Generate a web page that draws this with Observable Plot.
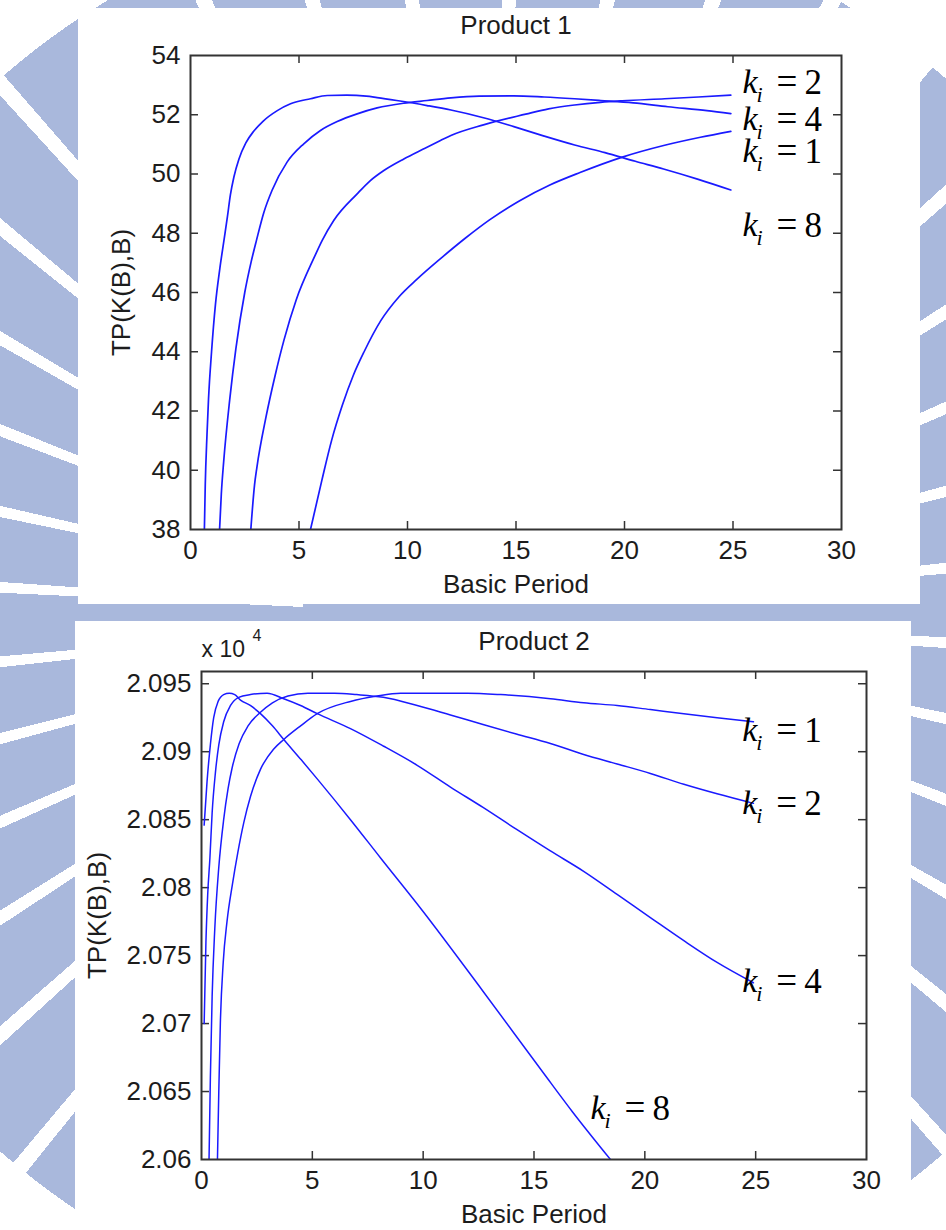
<!DOCTYPE html>
<html>
<head>
<meta charset="utf-8">
<script src="https://cdn.jsdelivr.net/npm/d3@7"></script>
<script src="https://cdn.jsdelivr.net/npm/@observablehq/plot@0.6"></script>
<style>
  html, body { margin: 0; padding: 0; }
  body { width: 946px; height: 1230px; position: relative; overflow: hidden; background: #fff; }
  /* pale emblem behind the figures: a ring of wedges around the page centre */
  .emblem {
    position: absolute; left: 0; top: 0; width: 946px; height: 1230px;
    background:
      radial-gradient(circle at 473px 615px, #a9b8dc 0 170px, transparent 170px 715px, #fff 715px),
      repeating-conic-gradient(from 4deg at 473px 615px, #a9b8dc 0deg 7.7deg, #fff 7.7deg 9deg);
  }
  .sheet { position: absolute; background: #fff; }
  .chart { position: absolute; left: 0; }
  .chart svg { display: block; }
</style>
</head>
<body>
<div class="emblem"></div>
<div class="sheet" style="left:78px;top:8px;width:842px;height:596px"></div>
<div class="sheet" style="left:75px;top:621px;width:836px;height:609px"></div>
<div id="c1" class="chart" style="top:0"></div>
<div id="c2" class="chart" style="top:610px"></div>
<script>
// ---- axes ----
const basicPeriodTicks = [0, 5, 10, 15, 20, 25, 30];
const innerPeriodTicks = [5, 10, 15, 20, 25];
const tp1Ticks = [38, 40, 42, 44, 46, 48, 50, 52, 54];
const tp2Ticks = [20600, 20650, 20700, 20750, 20800, 20850, 20900, 20950];

// ---- Product 1: [basic period, TP] for each k_i ----
const p1K1 = [[5.53,38.0],[6.05,39.65],[6.5,41.0],[7.0,42.2],[7.5,43.2],[8.0,44.0],[8.77,45.05],[9.6,45.85],[10.44,46.45],[11.55,47.16],[12.66,47.83],[13.78,48.45],[15.17,49.1],[16.56,49.63],[17.95,50.05],[19.9,50.57],[21.85,50.97],[23.5,51.24],[24.9,51.44]];
const p1K2 = [[2.78,38.0],[2.95,39.5],[3.06,40.1],[3.48,41.8],[3.9,43.2],[4.31,44.4],[4.87,45.75],[5.71,47.2],[6.07,47.76],[6.6,48.43],[7.68,49.33],[8.29,49.78],[8.91,50.12],[9.83,50.51],[10.75,50.85],[11.52,51.13],[12.0,51.3],[13.5,51.66],[15.45,52.02],[16.5,52.2],[17.7,52.33],[18.9,52.42],[19.9,52.47],[21.85,52.54],[23.4,52.6],[24.9,52.66]];
const p1K4 = [[1.34,38.0],[1.42,39.2],[1.53,40.3],[1.81,42.4],[2.09,44.1],[2.5,46.0],[2.8,47.05],[3.04,47.76],[3.38,48.7],[3.76,49.45],[4.45,50.4],[5.22,51.02],[5.99,51.47],[6.76,51.77],[7.68,52.03],[8.6,52.23],[9.83,52.39],[10.9,52.48],[12.0,52.57],[13.3,52.63],[14.9,52.64],[16.3,52.6],[17.7,52.54],[18.9,52.48],[20.4,52.4],[22.0,52.27],[23.8,52.14],[24.9,52.04]];
const p1K8 = [[0.64,38.0],[0.68,39.5],[0.76,41.2],[0.83,42.4],[0.97,44.0],[1.15,45.6],[1.35,46.8],[1.54,47.75],[1.7,48.55],[1.84,49.3],[2.0,49.9],[2.23,50.5],[2.55,51.05],[2.92,51.45],[3.34,51.78],[4.0,52.14],[4.61,52.37],[5.53,52.54],[6.3,52.65],[7.2,52.66],[8.1,52.63],[8.6,52.58],[9.5,52.48],[10.9,52.31],[12.0,52.16],[13.5,51.9],[14.9,51.6],[16.3,51.28],[17.7,50.98],[19.1,50.72],[20.5,50.43],[21.8,50.17],[23.4,49.82],[24.9,49.46]];

// ---- Product 2: [basic period, TP] for each k_i ----
const p2K1 = [[0.72,20600],[0.78,20650],[0.85,20700],[0.98,20745],[1.15,20775],[1.4,20803],[1.64,20826],[1.91,20848],[2.21,20867],[2.66,20887],[3.26,20902],[3.71,20909],[4.47,20919],[5.22,20928],[6.72,20937],[7.92,20941],[8.98,20943],[10.5,20943],[12.0,20943],[13.5,20942],[15.74,20939],[17.24,20936],[18.75,20934],[20.25,20931],[21.76,20928],[23.26,20925],[24.9,20922]];
const p2K2 = [[0.34,20600],[0.4,20660],[0.48,20720],[0.6,20770],[0.78,20815],[1.0,20850],[1.2,20873],[1.38,20888],[1.7,20906],[2.1,20919],[2.66,20929],[3.2,20936],[3.9,20941],[4.8,20943],[6.0,20943],[7.0,20942],[8.2,20940],[9.73,20934],[11.23,20927],[12.7,20920],[14.2,20913],[15.74,20906],[17.24,20898],[18.75,20891],[20.25,20884],[21.76,20876],[23.26,20869],[24.9,20862]];
const p2K4 = [[0.12,20700],[0.2,20760],[0.28,20795],[0.38,20822],[0.48,20855],[0.63,20885],[0.78,20905],[1.0,20922],[1.31,20934],[1.68,20940],[2.21,20942],[2.96,20943],[3.71,20939],[4.47,20934],[5.22,20928],[6.72,20917],[8.22,20904],[9.73,20890],[11.23,20874],[12.7,20859],[14.2,20843],[15.74,20827],[17.24,20812],[18.75,20795],[20.25,20778],[21.76,20761],[23.26,20745],[24.9,20730]];
const p2K8 = [[0.12,20846],[0.25,20878],[0.4,20905],[0.55,20925],[0.75,20937],[1.0,20942],[1.25,20943],[1.5,20942],[1.76,20938],[2.2,20934],[2.66,20928],[3.2,20919],[3.71,20909],[4.5,20894],[5.22,20880],[6.72,20850],[8.07,20822],[9.97,20783],[12.69,20724],[15.41,20664],[16.74,20635],[18.45,20600]];

// ---- curve labels (k_i value, anchor in data units) ----
const p1LabelK = ["2", "4", "1", "8"];
const p1LabelB = [25.44, 25.44, 25.44, 25.44];
const p1LabelTP = [52.72, 51.5, 50.39, 47.92];
const p2LabelK = ["1", "2", "4", "8"];
const p2LabelB = [24.4, 24.4, 24.4, 17.55];
const p2LabelTP = [20908, 20854, 20723, 20630];

const sans = '"Liberation Sans", Arial, Helvetica, sans-serif';
const serif = '"Liberation Serif", "Times New Roman", serif';
const ink = "#1c1c1c";
const frameGray = "#333";
const lineBlue = "#1a1aff";
const fs = 26;

function rowsOf(pairs) {
  return pairs.flatMap(([k, pts]) => pts.map(([B, TP]) => ({k, B, TP})));
}

// inward ticks on all four sides of the box
function boxTicks(xs, ys, pw, ph, len) {
  const s = {stroke: frameGray, strokeWidth: 1.5};
  return [
    Plot.tickX(xs, {x: d => d, insetTop: ph - len, ...s}),
    Plot.tickX(xs, {x: d => d, insetBottom: ph - len, ...s}),
    Plot.tickY(ys, {y: d => d, insetRight: pw - len, ...s}),
    Plot.tickY(ys, {y: d => d, insetLeft: pw - len, ...s})
  ];
}

// "k_i = n" labels beside the curves
function kLabels(values, Bs, TPs) {
  const idx = values.map((_, i) => i);
  const at = {x: i => Bs[i], y: i => TPs[i], textAnchor: "start", lineAnchor: "bottom", fill: "#000", fontFamily: serif};
  return [
    Plot.text(idx, {...at, text: () => "k", fontStyle: "italic", fontSize: 34}),
    Plot.text(idx, {...at, text: () => "i", fontStyle: "italic", fontSize: 22, dx: 14, dy: 9}),
    Plot.text(idx, {...at, text: () => "=", fontSize: 37, dx: 34, dy: 1}),
    Plot.text(idx, {...at, text: i => values[i], fontSize: 35, dx: 62, dy: 1})
  ];
}

function figure({title, series, yDomain, yTicks, yFormat, height, margin, yLabelDx, lineWidth, extra}) {
  const W = 946;
  const pw = W - margin.left - margin.right;
  const ph = height - margin.top - margin.bottom;
  const txt = {fontSize: fs, fill: ink, lineAnchor: "middle", textAnchor: "middle"};
  return Plot.plot({
    width: W,
    height,
    marginLeft: margin.left, marginRight: margin.right, marginTop: margin.top, marginBottom: margin.bottom,
    style: {background: "transparent", fontFamily: sans, fontSize: `${fs}px`, color: ink, overflow: "visible"},
    x: {domain: [0, 30]},
    y: {domain: yDomain},
    marks: [
      ...boxTicks(innerPeriodTicks, yTicks.filter(t => t > yDomain[0] && t < yDomain[1]), pw, ph, 8),
      Plot.line(rowsOf(series), {x: "B", y: "TP", z: "k", stroke: lineBlue, strokeWidth: lineWidth, curve: "monotone-x", clip: true}),
      Plot.frame({stroke: frameGray, strokeWidth: 2}),
      Plot.axisX({ticks: basicPeriodTicks, tickSize: 0, tickPadding: 11, tickFormat: d => d, label: null, fontSize: fs, fill: ink}),
      Plot.axisY({ticks: yTicks, tickSize: 0, tickPadding: 10, tickFormat: yFormat, label: null, fontSize: fs, fill: ink}),
      Plot.text([title], {...txt, frameAnchor: "top", dy: -30}),
      Plot.text(["Basic Period"], {...txt, frameAnchor: "bottom", dy: 55}),
      Plot.text(["TP(K(B),B)"], {...txt, frameAnchor: "left", dx: yLabelDx, rotate: -90}),
      ...extra
    ]
  });
}

const chart1 = figure({
  title: "Product 1",
  series: [["1", p1K1], ["2", p1K2], ["4", p1K4], ["8", p1K8]],
  yDomain: [38, 54],
  yTicks: tp1Ticks,
  yFormat: d => d,
  height: 610,
  margin: {left: 190, right: 105, top: 55, bottom: 81},
  yLabelDx: -69,
  lineWidth: 1.7,
  extra: kLabels(p1LabelK, p1LabelB, p1LabelTP)
});

const chart2 = figure({
  title: "Product 2",
  series: [["1", p2K1], ["2", p2K2], ["4", p2K4], ["8", p2K8]],
  yDomain: [20600, 20959],
  yTicks: tp2Ticks,
  yFormat: d => String(+(d / 1e4).toFixed(3)),
  height: 620,
  margin: {left: 201, right: 80, top: 61, bottom: 71},
  yLabelDx: -104,
  lineWidth: 1.5,
  extra: [
    Plot.text(["x 10"], {frameAnchor: "top-left", dy: -22, textAnchor: "start", lineAnchor: "middle", fontSize: 23, fill: ink}),
    Plot.text(["4"], {frameAnchor: "top-left", dx: 51, dy: -36, textAnchor: "start", lineAnchor: "middle", fontSize: 16, fill: ink}),
    ...kLabels(p2LabelK, p2LabelB, p2LabelTP)
  ]
});

document.getElementById("c1").append(chart1);
document.getElementById("c2").append(chart2);
</script>
</body>
</html>
